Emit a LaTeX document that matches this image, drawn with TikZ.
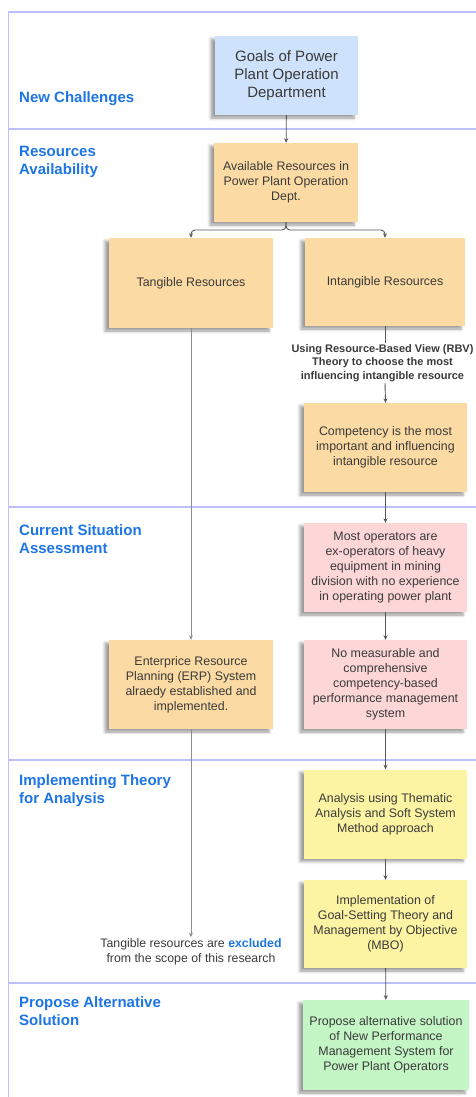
\documentclass[tikz,border=0pt]{standalone}
\usepackage{fontspec}
\setmainfont{Liberation Sans}
\usetikzlibrary{arrows.meta,shadows.blur}

\definecolor{bluefill}{RGB}{207,226,252}
\definecolor{orangefill}{RGB}{252,218,163}
\definecolor{pinkfill}{RGB}{253,214,215}
\definecolor{yellowfill}{RGB}{253,244,163}
\definecolor{greenfill}{RGB}{196,245,197}
\definecolor{secblue}{RGB}{29,117,229}
\definecolor{framec}{RGB}{190,190,250}
\definecolor{txt}{RGB}{58,58,58}
\definecolor{linedark}{RGB}{85,85,90}
\definecolor{linelight}{RGB}{140,140,148}

\tikzset{
  box/.style={rectangle, align=center, text=txt, inner sep=2pt,
    minimum width=163pt, minimum height=89pt,
    font=\fontsize{12.4}{15}\selectfont,
    blur shadow={shadow xshift=-4pt, shadow yshift=-3pt,
      shadow blur radius=3pt, shadow opacity=40}},
  % anchored on the baseline of the last line of the title
  seclabel/.style={anchor=base west, align=left, inner sep=0pt,
    text=secblue, font=\bfseries\fontsize{15}{18}\selectfont},
  frameline/.style={draw=framec, line width=1.2pt},
  conn/.style={draw=linedark, line width=0.9pt,
    -{Stealth[length=4.5pt,width=4pt]}},
  plainconn/.style={draw=linedark, line width=0.9pt},
  lightconn/.style={draw=linelight, line width=0.8pt,
    -{Stealth[length=4.5pt,width=4pt]}},
  note/.style={align=center, text=txt, inner sep=1pt},
}

\begin{document}
\begin{tikzpicture}[x=1pt, y=-1pt]
\useasboundingbox (0,0) rectangle (476,1097);

% swimlane frame
\draw[frameline] (8.5,1097) -- (8.5,12) -- (476,12);
\foreach \yy in {129,507,760,983}
  \draw[frameline] (8.5,\yy) -- (476,\yy);

% lane titles
\node[seclabel] (lane1) at (19,103) {New Challenges};
\node[seclabel] (lane2) at (19,174) {Resources\\Availability};
\node[seclabel] (lane3) at (19,553) {Current Situation\\Assessment};
\node[seclabel] (lane4) at (19,803) {Implementing Theory\\for Analysis};
\node[seclabel] (lane5) at (19,1025) {Propose Alternative\\Solution};

% boxes
\node[box, fill=bluefill, minimum width=143pt, minimum height=79pt,
      font=\fontsize{15}{18}\selectfont] (goals) at (286.5,75.5)
  {Goals of Power\\Plant Operation\\Department};
\node[box, fill=orangefill, minimum width=144pt, minimum height=79pt] (avail) at (286,182.5)
  {Available Resources in\\Power Plant Operation\\Dept.};
\node[box, fill=orangefill, minimum width=164pt, minimum height=90pt] (tang) at (191,283)
  {Tangible Resources};
\node[box, fill=orangefill, minimum width=160pt, minimum height=88pt] (intang) at (385,282)
  {Intangible Resources};
\node[box, fill=orangefill] (comp) at (385.5,447.5)
  {Competency is the most\\important and influencing\\intangible resource};
\node[box, fill=pinkfill] (ops) at (385.5,567.5)
  {Most operators are\\ex-operators of heavy\\equipment in mining\\division with no experience\\in operating power plant};
\node[box, fill=pinkfill] (nopms) at (385.5,684.5)
  {No measurable and\\comprehensive\\competency-based\\performance management\\system};
\node[box, fill=orangefill, minimum width=164pt] (erp) at (191,684.5)
  {Enterprice Resource\\Planning (ERP) System\\alraedy established and\\implemented.};
\node[box, fill=yellowfill] (thematic) at (385.5,814)
  {Analysis using Thematic\\Analysis and Soft System\\Method approach};
\node[box, fill=yellowfill, minimum height=88pt] (goalset) at (385.5,924)
  {Implementation of\\Goal-Setting Theory and\\Management by Objective\\(MBO)};
\node[box, fill=greenfill, minimum width=166pt, minimum height=90pt] (propose) at (386,1045)
  {Propose alternative solution\\of New Performance\\Management System for\\Power Plant Operators};

% free-standing notes
\node[note, font=\bfseries\fontsize{11}{13.7}\selectfont] (rbv) at (382.5,363)
  {Using Resource-Based View (RBV)\\Theory to choose the most\\influencing intangible resource};
\node[note, font=\fontsize{12.3}{15}\selectfont] (excl) at (191,951.5)
  {Tangible resources are \textcolor{secblue}{\bfseries excluded}\\from the scope of this research};

% connectors
\draw[conn] (goals) -- (avail);
\draw[conn, rounded corners=4pt] (avail.south) -- (286,230) -- (191,230) -- (tang.north);
\draw[conn, rounded corners=4pt] (avail.south) -- (286,230) -- (385,230) -- (intang.north);
\draw[plainconn] (intang.south) -- (intang.south |- rbv.north);
\draw[conn] (intang.south |- rbv.south) -- (comp.north);
\draw[conn] (comp) -- (ops);
\draw[conn] (ops) -- (nopms);
\draw[conn] (nopms) -- (thematic);
\draw[conn] (thematic) -- (goalset);
\draw[conn] (goalset) -- (propose);
\draw[lightconn] (tang) -- (erp);
\draw[lightconn] (erp) -- (excl);
\end{tikzpicture}
\end{document}
